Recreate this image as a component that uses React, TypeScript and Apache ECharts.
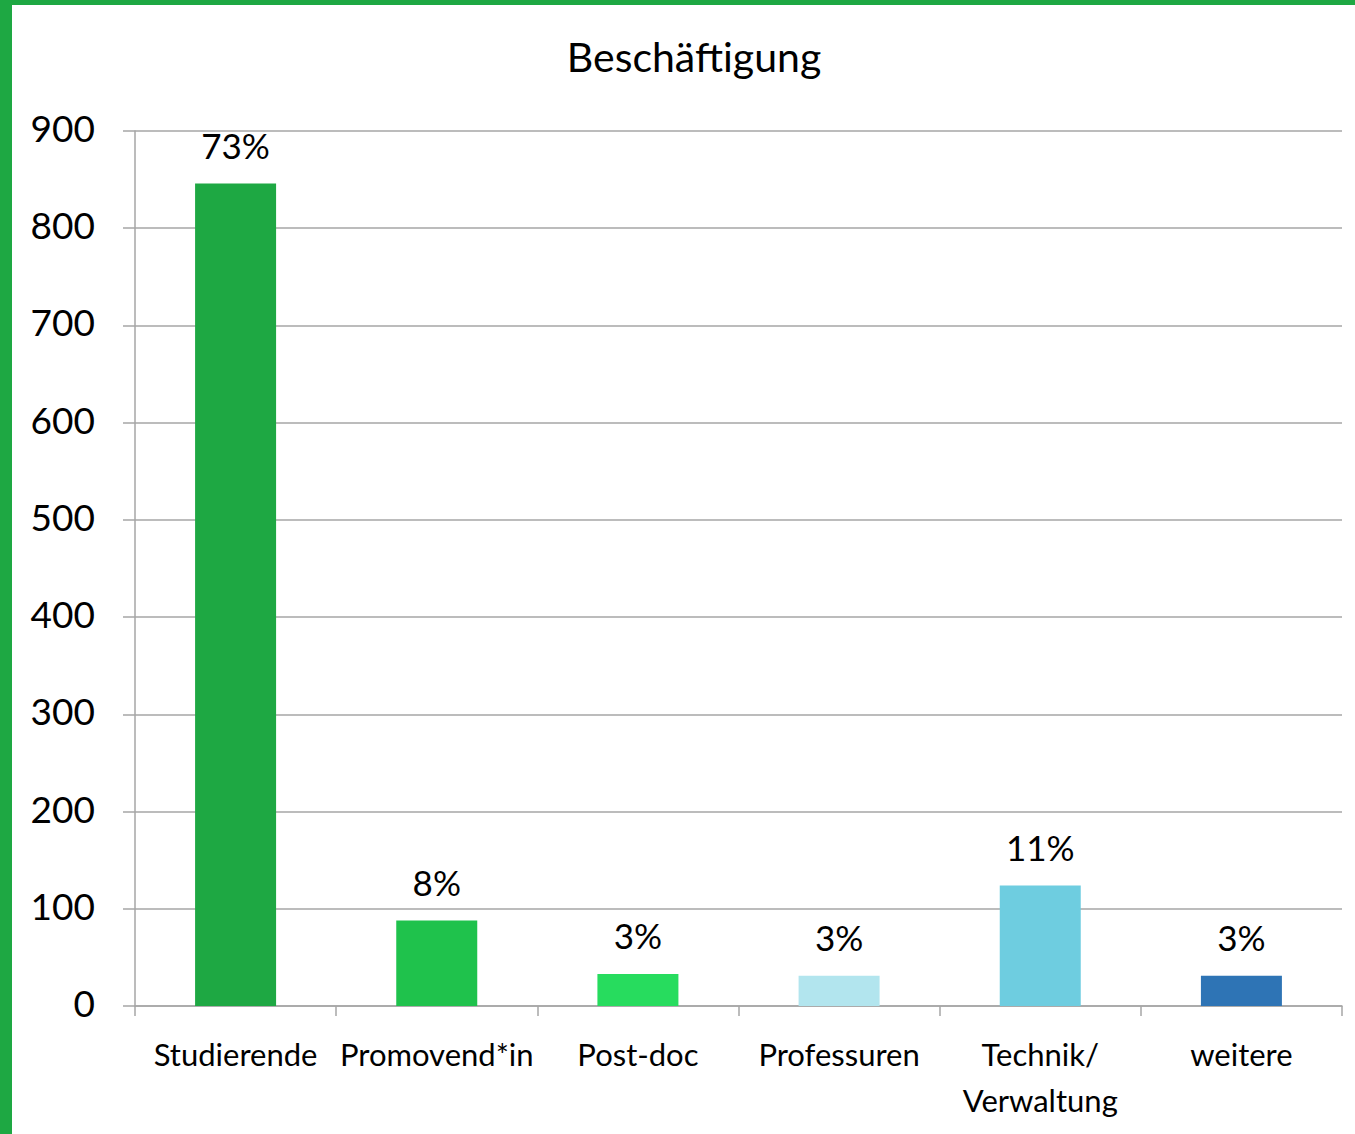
import React, { useEffect, useRef } from "react";
import * as echarts from "echarts";

const categories = ["Studierende", "Promovend*in", "Post-doc", "Professuren", "Technik/\nVerwaltung", "weitere"];
const values = [846, 88, 33, 31, 124, 31];
const colors = ["#1ea843", "#1fc24c", "#27dc5e", "#b2e5ee", "#6ecde0", "#2e74b5"];
const title = "Beschäftigung";

export default function App() {
  const ref = useRef<HTMLDivElement>(null);
  useEffect(() => {
    document.body.style.margin = "0";
    const chart = echarts.init(ref.current!, null, { renderer: "svg" });
    const total = values.reduce((a, b) => a + b, 0);
    const font = "Lato";
    chart.setOption({
      animation: false,
      backgroundColor: "#ffffff",
      title: {
        text: title,
        left: 689,
        top: 31,
        textAlign: "center",
        textStyle: { fontFamily: font, fontSize: 41, fontWeight: "normal", color: "#000" },
      },
      graphic: [
        { type: "rect", left: 0, top: 0, shape: { width: 12, height: 1134 }, style: { fill: "#1ea843" } },
        { type: "rect", left: 0, top: 0, shape: { width: 1355, height: 5 }, style: { fill: "#1ea843" } },
      ],
      grid: { left: 135, right: 13, top: 131, bottom: 128, containLabel: false },
      xAxis: {
        type: "category",
        data: categories,
        axisLine: { lineStyle: { color: "#a6a6a6", width: 1.5 } },
        axisTick: { show: true, length: 10, lineStyle: { color: "#a6a6a6", width: 1.5 } },
        axisLabel: {
          interval: 0,
          margin: 25,
          fontFamily: font,
          fontSize: 31,
          color: "#000",
          lineHeight: 46,
        },
      },
      yAxis: {
        type: "value",
        min: 0,
        max: 900,
        interval: 100,
        axisLine: { show: true, lineStyle: { color: "#a6a6a6", width: 1.5 } },
        axisTick: { show: true, length: 12, lineStyle: { color: "#a6a6a6", width: 1.5 } },
        splitLine: { lineStyle: { color: "#a6a6a6", width: 1.5 } },
        axisLabel: {
          margin: 40,
          formatter: (v: number) => "{a|" + v + "}",
          rich: {
            a: { fontFamily: font, fontSize: 37, color: "#000", padding: [0, 0, 7, 0] },
          },
        },
      },
      series: [
        {
          type: "bar",
          data: values.map((v, i) => ({ value: v, itemStyle: { color: colors[i] } })),
          barWidth: 81,
          label: {
            show: true,
            position: "top",
            distance: 21,
            fontFamily: font,
            fontSize: 35,
            color: "#000",
            formatter: (p: any) => Math.round((p.value / total) * 100) + "%",
          },
        },
      ],
    });
    return () => chart.dispose();
  }, []);
  return <div ref={ref} style={{ width: 1355, height: 1134 }} />;
}
